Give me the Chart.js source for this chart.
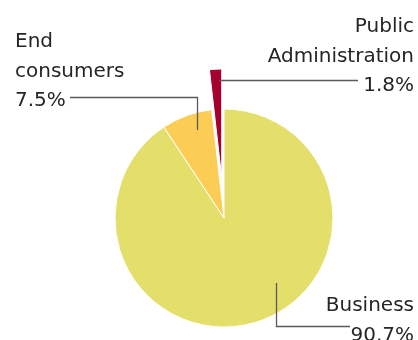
<!DOCTYPE html>
<html>
<head>
<meta charset="utf-8">
<script src="https://cdn.jsdelivr.net/npm/chart.js@4/dist/chart.umd.min.js"></script>
<style>
  html, body { margin: 0; padding: 0; background: #fff; }
  canvas { display: block; }
</style>
</head>
<body>
<canvas id="pie" width="418" height="340"></canvas>
<script>
// customer groups, share of sales in %
const categories = ['Business', 'End consumers', 'Public Administration'];
const labelLines = [['Business'], ['End', 'consumers'], ['Public', 'Administration']];
const shares = [90.7, 7.5, 1.8];

const sliceColors = ['#e4de6a', '#fbcd55', '#a6002f'];
const explode = [0, 0, 40];   // px the slice is pulled out along its middle
const textColor = '#262626';
const leaderColor = '#5a5a5a';

// label placement: text anchor, alignment, and leader line path (layout only)
const labelLayout = [
    { x: 414, y: 311, align: 'right', path: [[350, 326.5], [276.5, 326.5], [276.5, 283]] },
    { x: 15, y: 47, align: 'left', path: [[70, 97.5], [197.5, 97.5], [197.5, 130]] },
    { x: 414, y: 32, align: 'right', path: [[358, 80.5], [219, 80.5]] }
];

// draw the arcs ourselves so a slice can be moved out by a fixed distance
const explodePlugin = {
    id: 'explodeSlices',
    beforeDatasetDraw(chart, args) {
        const ctx = chart.ctx;
        args.meta.data.forEach((arc, i) => {
            const shift = explode[i] || 0;
            const mid = (arc.startAngle + arc.endAngle) / 2;
            ctx.save();
            ctx.translate(Math.cos(mid) * shift, Math.sin(mid) * shift);
            arc.draw(ctx);
            ctx.restore();
        });
        return false;
    }
};

const labelsPlugin = {
    id: 'sliceLabels',
    afterDraw(chart) {
        const ctx = chart.ctx;
        ctx.save();
        ctx.font = '20px "DejaVu Sans"';
        ctx.fillStyle = textColor;
        ctx.textBaseline = 'alphabetic';
        labelLayout.forEach((lay, i) => {
            const lines = labelLines[i].concat([shares[i].toFixed(1) + '%']);
            ctx.textAlign = lay.align;
            lines.forEach((txt, j) => {
                ctx.fillText(txt, lay.x, lay.y + j * 29.5);
            });

            ctx.strokeStyle = leaderColor;
            ctx.lineWidth = 1.3;
            ctx.beginPath();
            lay.path.forEach(([px, py], k) => {
                if (k === 0) ctx.moveTo(px, py);
                else ctx.lineTo(px, py);
            });
            ctx.stroke();
        });
        ctx.restore();
    }
};

new Chart(document.getElementById('pie').getContext('2d'), {
    type: 'pie',
    data: {
        labels: categories,
        datasets: [{
            data: shares,
            backgroundColor: sliceColors,
            borderColor: '#ffffff',
            borderWidth: 1,
            radius: 109
        }]
    },
    options: {
        responsive: false,
        animation: false,
        layout: {
            padding: { left: 30, right: 0, top: 96, bottom: 0 }
        },
        plugins: {
            legend: { display: false },
            tooltip: { enabled: false }
        }
    },
    plugins: [explodePlugin, labelsPlugin]
});
</script>
</body>
</html>
